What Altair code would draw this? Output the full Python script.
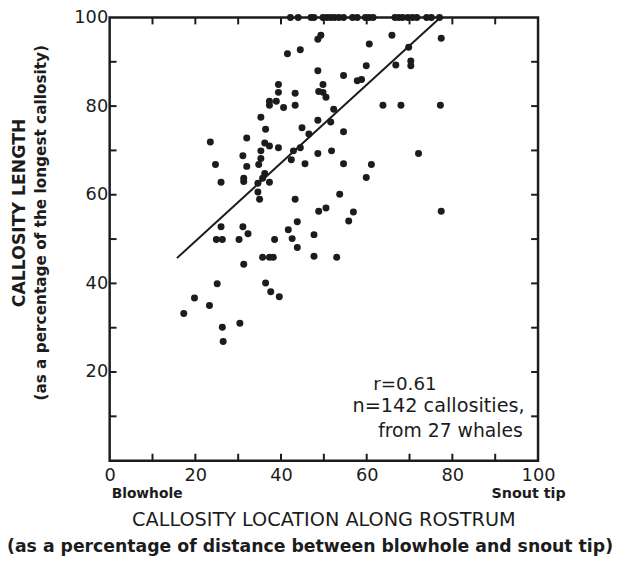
import altair as alt
import pandas as pd

# Callosity location along rostrum (% of blowhole-to-snout distance)
location = [
    49.3, 48.6, 44.5, 41.5, 48.6, 54.6, 39.4, 49.8, 39.4, 43.3,
    48.8, 49.8, 50.5, 37.3, 37.3, 38.9, 40.6, 43.3, 52.3, 35.3,
    48.6, 51.6, 36.4, 44.9, 46.5, 54.6, 23.5, 32.0, 36.2, 37.3,
    39.4, 35.3, 42.9, 44.5, 48.6, 51.8, 31.1, 35.3, 42.4, 24.7,
    32.0, 34.8, 45.6, 54.6, 36.2, 31.3, 31.3, 35.7, 26.0, 34.6,
    37.3, 34.6, 35.0, 43.3, 53.7, 50.5, 48.8, 65.9, 77.4, 60.6,
    69.8, 59.9, 66.8, 70.3, 70.3, 57.8, 58.8, 63.8, 68.0, 77.2,
    72.1, 61.1, 59.9, 77.4, 56.9, 55.8, 43.8, 47.7, 43.8, 47.7,
    53.0, 26.0, 31.1, 32.3, 24.9, 26.3, 30.2, 38.5, 41.7, 42.6,
    35.7, 37.3, 38.2, 31.3, 25.1, 36.4, 37.6, 39.6, 19.8, 23.3,
    17.3, 26.3, 30.4, 26.5,
    # callosities that were the longest (100 %)
    42.2, 44.0, 47.0, 47.7, 49.8, 50.7, 51.6, 52.5, 53.5, 54.6,
    56.7, 57.8, 59.7, 60.6, 61.5, 66.6, 67.5, 68.4, 69.6, 70.7,
    71.7, 74.0, 75.1, 77.0,
]
# Callosity length (% of the longest callosity)
length = [
    96.0, 95.1, 92.7, 91.8, 88.0, 86.9, 84.9, 84.9, 83.1, 82.9,
    83.3, 83.1, 82.0, 81.1, 80.2, 81.1, 79.7, 80.2, 79.3, 77.5,
    76.8, 76.4, 74.8, 75.1, 73.7, 74.2, 71.9, 72.8, 71.7, 71.0,
    70.6, 69.9, 69.9, 70.6, 69.3, 69.9, 68.8, 68.2, 67.9, 66.8,
    66.4, 66.8, 67.0, 67.0, 64.8, 63.7, 63.0, 63.7, 62.8, 62.6,
    62.8, 60.6, 59.0, 59.0, 60.1, 57.0, 56.3, 96.0, 95.3, 94.0,
    93.3, 89.1, 89.3, 90.2, 89.1, 85.7, 86.0, 80.2, 80.2, 80.2,
    69.3, 66.8, 63.9, 56.3, 56.1, 54.1, 53.9, 51.0, 48.1, 46.1,
    45.9, 52.8, 52.8, 51.2, 49.9, 49.9, 49.9, 49.9, 52.1, 50.1,
    45.9, 45.9, 45.9, 44.3, 39.9, 40.1, 38.1, 37.0, 36.7, 35.0,
    33.2, 30.1, 31.0, 26.9,
    100, 100, 100, 100, 100, 100, 100, 100, 100, 100,
    100, 100, 100, 100, 100, 100, 100, 100, 100, 100,
    100, 100, 100, 100,
]

# Fitted line end points
fit_x = [15.7, 77.2]
fit_y = [45.7, 100.0]

x_labels = [0, 20, 40, 60, 80, 100]
y_labels = [20, 40, 60, 80, 100]
minor_ticks = [10, 20, 30, 40, 50, 60, 70, 80, 90]

W, H = 434, 449
FONT = "DejaVu Sans"
INK = "#1c1c1c"

pts = pd.DataFrame({"loc": location, "len": length})
fit = pd.DataFrame({"loc": fit_x, "len": fit_y})
ticks = pd.DataFrame({"v": minor_ticks})

xs = alt.Scale(domain=[0, 100], nice=False)
ys = alt.Scale(domain=[0, 100], nice=False)

x_axis = alt.Axis(values=x_labels, tickSize=0, domain=False, grid=False,
                  labelFontSize=18, labelFont=FONT, labelColor=INK,
                  labelPadding=6, title=None, labelFlush=False)
y_axis = alt.Axis(values=y_labels, tickSize=0, domain=False, grid=False,
                  labelFontSize=18, labelFont=FONT, labelColor=INK,
                  labelPadding=2, title=None)

points = alt.Chart(pts).mark_circle(size=50, color=INK, opacity=1).encode(
    x=alt.X("loc:Q", scale=xs, axis=x_axis),
    y=alt.Y("len:Q", scale=ys, axis=y_axis),
)

line = alt.Chart(fit).mark_line(color=INK, strokeWidth=2).encode(
    x=alt.X("loc:Q", scale=xs), y=alt.Y("len:Q", scale=ys)
)

tk = alt.Chart(ticks)
tick_bottom = tk.mark_rule(color=INK, strokeWidth=2).encode(
    x=alt.X("v:Q", scale=xs), y=alt.value(H), y2=alt.value(H - 7))
tick_top = tk.mark_rule(color=INK, strokeWidth=2).encode(
    x=alt.X("v:Q", scale=xs), y=alt.value(0), y2=alt.value(7))
tick_left = tk.mark_rule(color=INK, strokeWidth=2).encode(
    y=alt.Y("v:Q", scale=ys), x=alt.value(0), x2=alt.value(7))
tick_right = tk.mark_rule(color=INK, strokeWidth=2).encode(
    y=alt.Y("v:Q", scale=ys), x=alt.value(W), x2=alt.value(W - 7))


def label(text, x, y, size, weight="normal", align="left", angle=0):
    kw = dict(align=align, baseline="middle", fontSize=size, font=FONT,
              fontWeight=weight, color=INK, text=text)
    if angle:
        kw["angle"] = angle
    return alt.Chart(pd.DataFrame({"t": [text]})).mark_text(**kw).encode(
        x=alt.value(x), y=alt.value(y))


texts = [
    label("CALLOSITY LENGTH", -91, 198, 17.5, "bold", "center", 270),
    label("(as a percentage of the longest callosity)", -69, 208, 15.5, "bold", "center", 270),
    label("Blowhole", 2, 483, 14, "bold", "left"),
    label("Snout tip", 462, 483, 14.5, "bold", "right"),
    label("CALLOSITY LOCATION ALONG ROSTRUM", 217, 509, 19.5, "normal", "center"),
    label("(as a percentage of distance between blowhole and snout tip)", 203, 537, 17.5, "bold", "center"),
    label("r=0.61", 267, 371, 18.5, "normal", "left"),
    label("n=142 callosities,", 246, 394, 19.5, "normal", "left"),
    label("from 27 whales", 272, 419, 19, "normal", "left"),
]

chart = alt.layer(
    line, points, tick_bottom, tick_top, tick_left, tick_right, *texts
).properties(
    width=W, height=H,
    padding={"left": 103, "top": 6, "right": 80, "bottom": 93},
    autosize=alt.AutoSizeParams(type="none"),
    background="white",
).configure_view(stroke=INK, strokeWidth=2.5)

chart.save("out.html", embed_options={"renderer": "svg", "actions": False})
